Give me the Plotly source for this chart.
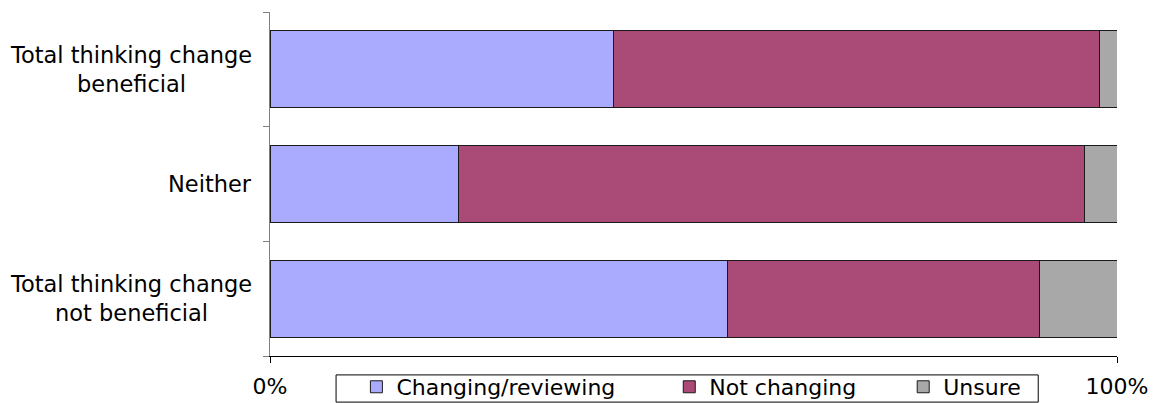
import plotly.graph_objects as go

# Survey groups (top to bottom) and share of responses per answer, in percent
categories = ["Total thinking change<br>beneficial", "Neither", "Total thinking change<br>not beneficial"]
changing = [40.5, 22.3, 54.0]
not_changing = [57.4, 73.9, 36.9]
unsure = [2.1, 3.8, 9.1]

x_ticks = [0, 100]
x_tick_labels = ["0%", "100%"]

NB = "\u00a0"  # non-breaking space, widens the gap between legend entries
series = [
    ("Changing/reviewing", changing, "#AAAAFF", 7),
    ("Not changing", not_changing, "#A94A77", 6),
    ("Unsure", unsure, "#A8A8A8", 0),
]

FONT = "DejaVu Sans, Verdana, sans-serif"
FS = 22

fig = go.Figure()
for name, values, color, pad in series:
    fig.add_trace(go.Bar(
        y=categories,
        x=values,
        name=name + NB * pad,
        orientation="h",
        marker=dict(color=color, line=dict(color="#1a1a1a", width=1)),
    ))

# Multi-line category labels, centred line by line
for cat in categories:
    fig.add_annotation(
        x=0, xref="paper", y=cat, yref="y",
        xanchor="right", xshift=-16,
        text=cat, showarrow=False, align="center",
        font=dict(family=FONT, size=22.5, color="#000000"),
    )

# Frame around the legend
fig.add_shape(
    type="rect", xref="paper", yref="paper",
    x0=0.078, x1=0.907, y0=-0.055, y1=-0.134,
    line=dict(color="#000000", width=1), fillcolor="rgba(0,0,0,0)",
    layer="above",
)

fig.update_layout(
    width=1159, height=403,
    margin=dict(l=270, r=42, t=12, b=47, autoexpand=False),
    barmode="stack",
    bargap=0.33,
    plot_bgcolor="#FFFFFF",
    paper_bgcolor="#FFFFFF",
    font=dict(family=FONT, size=FS, color="#000000"),
    showlegend=True,
    legend=dict(
        orientation="h",
        x=0.102, xanchor="left",
        y=-0.029, yanchor="top",
        borderwidth=0,
        bgcolor="rgba(0,0,0,0)",
        font=dict(family=FONT, size=FS, color="#000000"),
        traceorder="normal",
    ),
)

fig.update_xaxes(
    range=[0, 100],
    tickvals=x_ticks,
    ticktext=x_tick_labels,
    ticks="outside", ticklen=6, tickcolor="#000000",
    showline=True, linecolor="#000000", linewidth=1,
    showgrid=True, gridcolor="#000000", gridwidth=1,
    zeroline=False,
    tickfont=dict(family=FONT, size=FS),
    ticklabelstandoff=5,
)

fig.update_yaxes(
    categoryorder="array",
    categoryarray=categories[::-1],
    showticklabels=False,
    ticks="outside", ticklen=6, tickcolor="#808080",
    tickson="boundaries",
    showline=True, linecolor="#808080", linewidth=1,
    showgrid=False, zeroline=False,
)

fig.write_html("out.html")
